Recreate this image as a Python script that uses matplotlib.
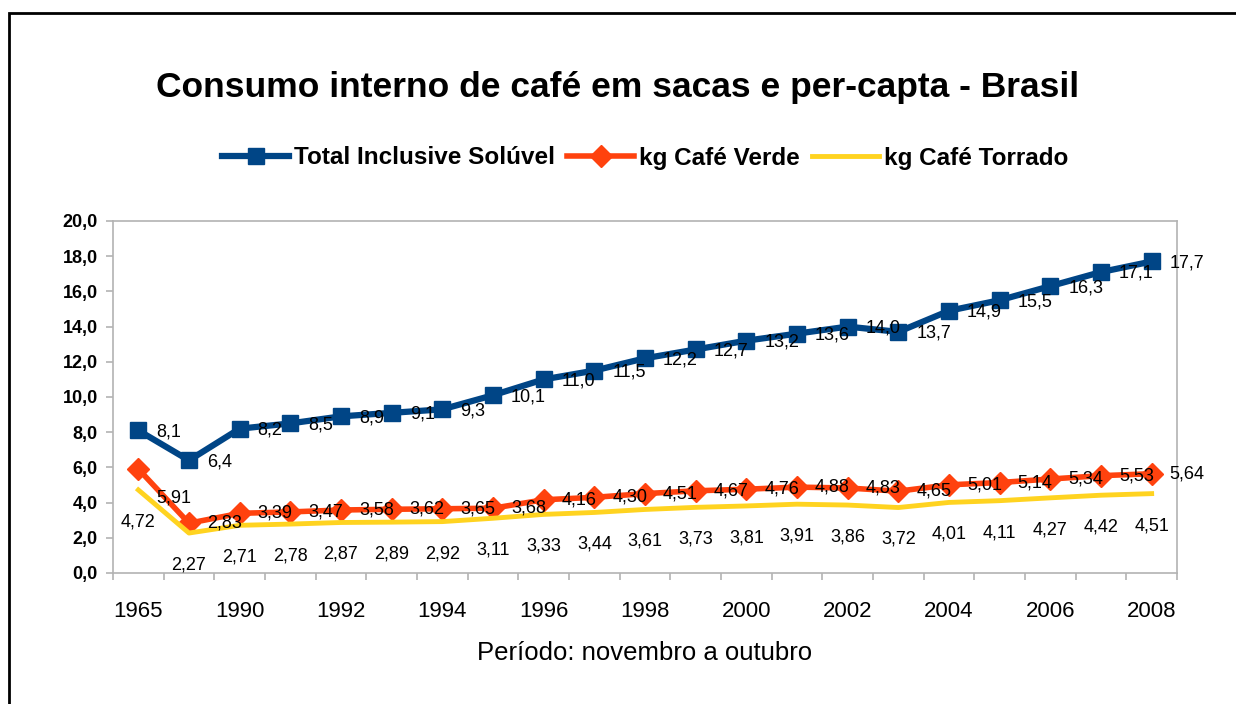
import matplotlib.pyplot as plt
from matplotlib.patches import Rectangle

anos = ['1965', '1985', '1990', '1991', '1992', '1993', '1994', '1995', '1996', '1997', '1998',
        '1999', '2000', '2001', '2002', '2003', '2004', '2005', '2006', '2007', '2008']
total = [8.1, 6.4, 8.2, 8.5, 8.9, 9.1, 9.3, 10.1, 11.0, 11.5, 12.2,
         12.7, 13.2, 13.6, 14.0, 13.7, 14.9, 15.5, 16.3, 17.1, 17.7]
verde = [5.91, 2.83, 3.39, 3.47, 3.58, 3.62, 3.65, 3.68, 4.16, 4.30, 4.51,
         4.67, 4.76, 4.88, 4.83, 4.65, 5.01, 5.14, 5.34, 5.53, 5.64]
torrado = [4.72, 2.27, 2.71, 2.78, 2.87, 2.89, 2.92, 3.11, 3.33, 3.44, 3.61,
           3.73, 3.81, 3.91, 3.86, 3.72, 4.01, 4.11, 4.27, 4.42, 4.51]

plt.rcParams['font.family'] = ['Liberation Sans', 'DejaVu Sans']

fig = plt.figure(figsize=(12.36, 7.04), dpi=100)
ax = fig.add_axes([113/1236, 1-573/704, (1177-113)/1236, (573-221)/704])

x = list(range(len(anos)))
l1, = ax.plot(x, total, color='#004586', lw=4.5, marker='s', ms=11.5, label='Total Inclusive Solúvel')
l2, = ax.plot(x, verde, color='#ff420e', lw=4, marker='D', ms=11, label='kg Café Verde')
l3, = ax.plot(x, torrado, color='#ffd320', lw=3.5, label='kg Café Torrado')

fmt = lambda v, d: f'{v:.{d}f}'.replace('.', ',')
for i in x:
    ax.annotate(fmt(total[i], 1), (i, total[i]), xytext=(13, -1), textcoords='offset points',
                ha='left', va='center', fontsize=13)
    dy = -21 if i == 0 else 0
    ax.annotate(fmt(verde[i], 2), (i, verde[i]), xytext=(13, dy), textcoords='offset points',
                ha='left', va='center', fontsize=13)
    ax.annotate(fmt(torrado[i], 2), (i, torrado[i]), xytext=(0, -23), textcoords='offset points',
                ha='center', va='center', fontsize=13)

ax.set_xlim(-0.5, len(anos) - 0.5)
ax.set_ylim(0, 20)
ax.set_yticks(range(0, 21, 2))
ax.set_yticklabels([fmt(v, 1) for v in range(0, 21, 2)], fontweight='bold', fontsize=13)
ax.set_xticks(x[::2])
ax.set_xticklabels(anos[::2], fontsize=16)
ax.set_xticks([i - 0.5 for i in range(len(anos) + 1)], minor=True)
ax.tick_params(axis='x', which='major', length=0, pad=20)
ax.tick_params(axis='x', which='minor', length=5, color='#b3b3b3', width=1.2)
ax.tick_params(axis='y', length=5, color='#b3b3b3', width=1.2, pad=6)
for s in ax.spines.values():
    s.set_color('#b3b3b3')
    s.set_linewidth(1.2)

ax.set_xlabel('Período: novembro a outubro', fontsize=18.5, labelpad=14)

fig.text(0.5, 1-87/704, 'Consumo interno de café em sacas e per-capta - Brasil',
         ha='center', va='center', fontsize=25.5, fontweight='bold')
fig.legend(handles=[l1, l2, l3], loc='center', bbox_to_anchor=(0.522, 1-158/704), ncol=3,
           frameon=False, prop={'weight': 'bold', 'size': 17.5}, handlelength=2.75,
           handletextpad=0.2, columnspacing=0.5)

fig.patches.append(Rectangle((9/1236, -0.05), 1.1, 1-13/704+0.05, transform=fig.transFigure,
                             fill=False, edgecolor='black', lw=2))
fig.savefig('out.png', dpi=100)
